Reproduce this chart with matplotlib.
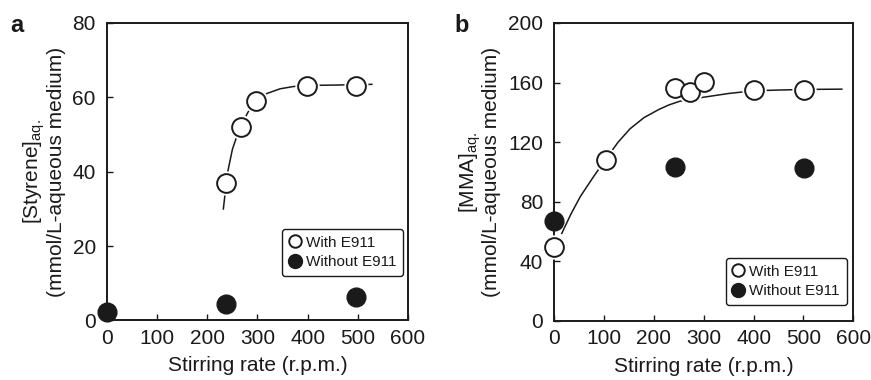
import matplotlib
matplotlib.use("Agg")
import matplotlib.pyplot as plt
from matplotlib.lines import Line2D

plt.rcParams["font.family"] = ["Liberation Sans", "DejaVu Sans"]
plt.rcParams["mathtext.fontset"] = "custom"
plt.rcParams["mathtext.rm"] = "Liberation Sans"

# ── panel a: styrene ──
a_with_x = [238, 268, 297, 398, 496]
a_with_y = [36.9, 52.1, 59.1, 63.1, 63.1]
a_without_x = [0, 237, 496]
a_without_y = [2.2, 4.35, 6.4]
# fit line
a_curve_x = [232, 240, 250, 260, 268, 281, 297, 318, 345, 371, 398, 450, 496, 528]
a_curve_y = [30, 39.5, 46, 50, 52.5, 56, 59, 61, 62.3, 62.9, 63.2, 63.3, 63.4, 63.5]

# ── panel b: MMA ──
b_with_x = [0, 103, 242, 272, 301, 400, 501]
b_with_y = [49.9, 108, 156.6, 153.7, 160.2, 154.8, 154.8]
b_without_x = [0, 242, 501]
b_without_y = [67.1, 103.1, 102.9]
b_curve_x = [15, 33, 52, 78, 103, 128, 152, 180, 210, 230, 252, 280, 306, 350, 400, 450, 501, 577]
b_curve_y = [58.8, 71.5, 83.4, 96.5, 108.5, 120, 129, 136.5, 142, 145, 147.5,
             149.2, 150.5, 152.7, 154.5, 155.0, 155.4, 155.6]

xticks = [0, 100, 200, 300, 400, 500, 600]
a_yticks = [0, 20, 40, 60, 80]
b_yticks = [0, 40, 80, 120, 160, 200]

INK = "#1a1a1a"
MS = 13.5
FS = 15


def draw_panel(ax, wx, wy, nx, ny, cx, cy, yticks, ylabel, legend_anchor):
    ax.plot(cx, cy, color=INK, lw=1.1, zorder=2, clip_on=False)
    # white halo so the fit line stops short of the open circles
    ax.plot(wx, wy, ls="none", marker="o", ms=MS + 4, mfc="white", mec="none",
            zorder=3, clip_on=False)
    ax.plot(wx, wy, ls="none", marker="o", ms=MS, mfc="white", mec=INK,
            mew=1.4, zorder=4, clip_on=False)
    ax.plot(nx, ny, ls="none", marker="o", ms=MS, mfc=INK, mec=INK,
            zorder=4, clip_on=False)

    ax.set_xlim(0, 600)
    ax.set_ylim(yticks[0], yticks[-1])
    ax.set_xticks(xticks)
    ax.set_yticks(yticks)
    ax.tick_params(direction="in", length=4, width=1.0, labelsize=FS,
                   colors=INK)
    ax.tick_params(axis="y", pad=8)
    ax.tick_params(axis="x", pad=6)
    for s in ax.spines.values():
        s.set_linewidth(1.4)
        s.set_color(INK)
    ax.set_xlabel("Stirring rate (r.p.m.)", fontsize=FS, color=INK, labelpad=6)
    ax.set_ylabel(ylabel, fontsize=FS, color=INK, labelpad=5,
                  linespacing=0.95)

    handles = [
        Line2D([], [], ls="none", marker="o", ms=9, mfc="white", mec=INK, mew=1.4),
        Line2D([], [], ls="none", marker="o", ms=10, mfc=INK, mec=INK),
    ]
    leg = ax.legend(handles, ["With E911", "Without E911"], loc="lower right",
                    bbox_to_anchor=legend_anchor, fontsize=11, frameon=True,
                    fancybox=True, handlelength=0.7, handletextpad=0.4,
                    borderpad=0.45, labelspacing=0.35, borderaxespad=0)
    fr = leg.get_frame()
    fr.set_edgecolor(INK)
    fr.set_linewidth(1.0)
    fr.set_alpha(1)
    for t in leg.get_texts():
        t.set_color(INK)


fig = plt.figure(figsize=(8.71, 3.80), dpi=100)
ax1 = fig.add_axes([0.1228, 0.1566, 0.3456, 0.7829])
ax2 = fig.add_axes([0.6364, 0.1553, 0.3433, 0.7842])

draw_panel(ax1, a_with_x, a_with_y, a_without_x, a_without_y, a_curve_x, a_curve_y,
           a_yticks, "[Styrene]$_{\\mathrm{aq.}}$\n(mmol/L-aqueous medium)",
           (0.985, 0.15))
draw_panel(ax2, b_with_x, b_with_y, b_without_x, b_without_y, b_curve_x, b_curve_y,
           b_yticks, "[MMA]$_{\\mathrm{aq.}}$\n(mmol/L-aqueous medium)",
           (0.978, 0.054))

fig.text(10 / 871, 1 - 26 / 380, "a", fontsize=17, fontweight="bold", color=INK,
         va="center", ha="left")
fig.text(454 / 871, 1 - 26 / 380, "b", fontsize=17, fontweight="bold", color=INK,
         va="center", ha="left")

fig.savefig("out.png", dpi=100)
